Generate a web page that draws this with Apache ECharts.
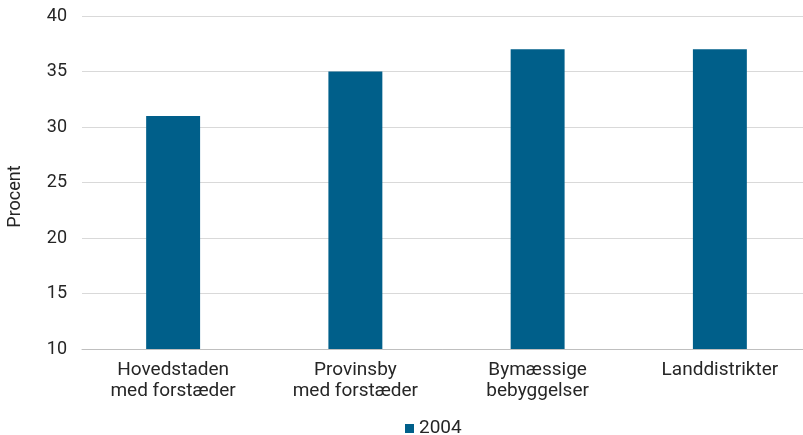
<!DOCTYPE html>
<html><head><meta charset="utf-8">
<script src="https://cdn.jsdelivr.net/npm/echarts@6/dist/echarts.min.js"></script>
<style>html,body{margin:0;padding:0;background:#fff}#c{width:803px;height:435px}</style>
</head><body><div id="c"></div>
<script>
const categories = ["Hovedstaden\nmed forstæder", "Provinsby\nmed forstæder", "Bymæssige\nbebyggelser", "Landdistrikter"];
const values2004 = [31, 35, 37, 37];
const seriesName = "2004";
const yTicks = { min: 10, max: 40, interval: 5 };

const chart = echarts.init(document.getElementById('c'), null, {renderer: 'canvas'});
const font = 'Roboto';
const txt = '#262626';
chart.setOption({
  animation: false,
  grid: { left: 82, right: -8, top: 16, bottom: 86, containLabel: false, outerBoundsMode: 'none' },
  legend: {
    left: 400, top: 414,
    itemWidth: 9, itemHeight: 9, itemGap: 4,
    icon: 'rect',
    textStyle: { fontFamily: font, fontSize: 19, color: txt },
    data: [seriesName]
  },
  xAxis: {
    type: 'category', data: categories,
    axisLine: { lineStyle: { color: '#bfbfbf', width: 1 } },
    axisTick: { show: false },
    axisLabel: { fontFamily: font, fontSize: 19, color: txt, lineHeight: 21, margin: 11, interval: 0 }
  },
  yAxis: {
    type: 'value', min: yTicks.min, max: yTicks.max, interval: yTicks.interval,
    name: 'Procent', nameLocation: 'middle', nameGap: 58, nameRotate: 90,
    nameTextStyle: { fontFamily: font, fontSize: 18, color: txt, padding: [0, 28, 0, 0] },
    axisLine: { show: false }, axisTick: { show: false },
    axisLabel: { fontFamily: font, fontSize: 18, color: txt, margin: 15 },
    splitLine: { lineStyle: { color: '#d9d9d9', width: 1 } }
  },
  series: [{
    name: seriesName, type: 'bar', data: values2004,
    barWidth: '29.6%',
    itemStyle: { color: '#005F8A' }
  }]
});
</script></body></html>
